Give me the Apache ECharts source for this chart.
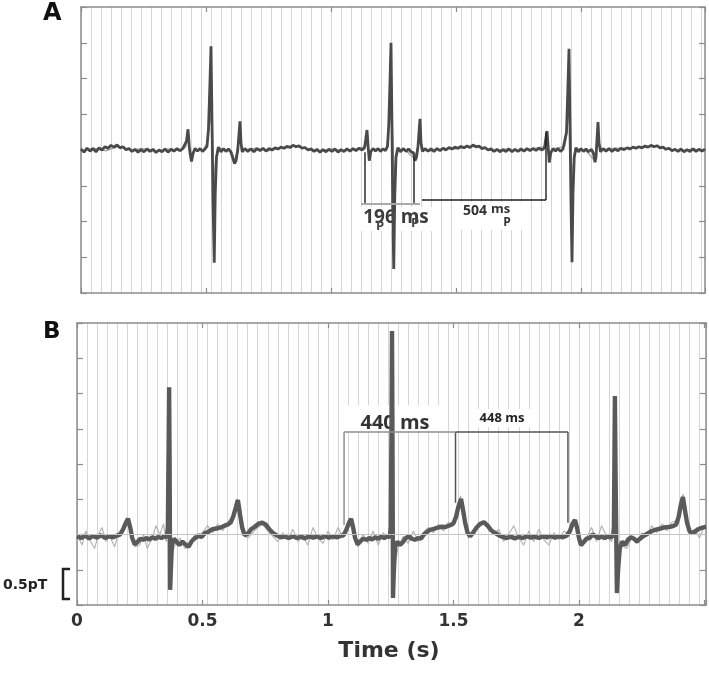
<!DOCTYPE html>
<html><head><meta charset="utf-8">
<script src="https://cdn.jsdelivr.net/npm/echarts@6.0.0/dist/echarts.min.js"></script>
<style>html,body{margin:0;padding:0;background:#fff}#c{width:709px;height:673px}</style>
</head><body><div id="c"></div><script>
// ---------- data (time in s, field in arbitrary units) ----------
const xTickLabels = ['0', '0.5', '1', '1.5', '2'];

const aMain = [[0,0.03],[0.012,-0.06],[0.024,0.05],[0.036,-0.03],[0.048,0.04],[0.06,-0.05],[0.072,0.06],[0.084,0.0],[0.096,0.09],[0.108,0.05],[0.12,0.13],[0.132,0.08],[0.144,0.14],[0.156,0.06],[0.168,0.09],[0.18,0.01],[0.192,0.04],[0.204,-0.04],[0.216,0.02],[0.228,-0.06],[0.24,0.01],[0.252,-0.05],[0.264,0.03],[0.276,-0.04],[0.288,0.02],[0.30,-0.07],[0.312,0.0],[0.324,-0.05],[0.336,0.03],[0.348,-0.06],[0.36,0.02],[0.372,-0.03],[0.384,0.04],[0.396,-0.02],[0.408,0.05],[0.416,0.02],
[0.422,0.25],[0.428,0.58],[0.433,0.1],[0.437,-0.12],[0.442,-0.32],[0.448,-0.1],[0.456,0.04],[0.466,-0.03],[0.476,0.04],[0.486,-0.04],[0.496,0.03],[0.504,0.1],
[0.51,0.6],[0.515,1.7],[0.52,2.9],[0.524,0.8],[0.528,-1.4],[0.533,-3.15],[0.537,-1.2],[0.542,-0.2],[0.55,0.08],[0.56,-0.05],[0.57,0.04],[0.58,-0.04],[0.59,0.03],[0.60,-0.06],[0.608,-0.1],
[0.614,-0.38],[0.62,-0.3],[0.627,0.0],[0.632,0.45],[0.636,0.8],[0.64,0.2],[0.645,-0.05],[0.655,0.04],[0.667,-0.04],
[0.68,0.03],[0.692,-0.05],[0.704,0.04],[0.716,-0.02],[0.728,0.05],[0.74,-0.03],[0.752,0.04],[0.764,0.0],[0.776,0.06],[0.788,0.03],[0.80,0.08],[0.812,0.05],[0.824,0.1],[0.836,0.07],[0.848,0.13],[0.86,0.09],[0.872,0.12],[0.884,0.05],[0.896,0.07],[0.908,0.0],[0.92,0.03],[0.932,-0.04],[0.944,0.02],[0.956,-0.06],[0.968,0.01],[0.98,-0.05],[0.992,0.02],[1.004,-0.04],[1.016,0.03],[1.028,-0.06],[1.04,0.01],[1.052,-0.04],[1.064,0.03],[1.076,-0.03],[1.088,0.04],[1.10,-0.02],[1.112,0.05],[1.124,0.0],[1.134,0.06],
[1.139,0.3],[1.144,0.56],[1.149,0.05],[1.153,-0.3],[1.159,-0.05],[1.168,0.04],[1.178,-0.03],[1.188,0.04],[1.198,-0.04],[1.208,0.03],[1.218,-0.02],[1.226,0.1],
[1.231,0.7],[1.236,1.9],[1.24,3.0],[1.244,0.6],[1.247,-1.6],[1.251,-3.33],[1.255,-1.3],[1.26,-0.2],[1.268,0.06],[1.278,-0.05],[1.29,0.04],[1.30,-0.04],[1.31,0.03],[1.32,-0.05],[1.33,-0.08],
[1.336,-0.3],[1.342,-0.2],[1.348,0.1],[1.352,0.5],[1.356,0.87],[1.36,0.2],[1.366,-0.04],[1.376,0.04],[1.388,-0.03],
[1.40,0.03],[1.412,-0.04],[1.424,0.04],[1.436,-0.02],[1.448,0.05],[1.46,0.0],[1.472,0.07],[1.484,0.03],[1.496,0.08],[1.508,0.05],[1.52,0.1],[1.532,0.06],[1.544,0.11],[1.556,0.07],[1.568,0.14],[1.58,0.09],[1.592,0.11],[1.604,0.04],[1.616,0.07],[1.628,0.0],[1.64,0.03],[1.652,-0.04],[1.664,0.02],[1.676,-0.05],[1.688,0.01],[1.70,-0.04],[1.712,0.03],[1.724,-0.05],[1.736,0.02],[1.748,-0.04],[1.76,0.03],[1.772,-0.03],[1.784,0.04],[1.796,-0.02],[1.808,0.04],[1.82,-0.01],[1.832,0.05],[1.844,0.0],[1.854,0.06],
[1.859,0.3],[1.864,0.53],[1.869,0.05],[1.873,-0.35],[1.879,-0.08],[1.888,0.04],[1.898,-0.03],[1.908,0.04],[1.918,-0.04],[1.928,0.03],[1.936,0.08],
[1.942,0.5],[1.947,1.6],[1.952,2.83],[1.956,0.7],[1.96,-1.5],[1.964,-3.14],[1.968,-1.2],[1.973,-0.2],[1.98,0.06],[1.99,-0.05],[2.0,0.04],[2.01,-0.04],[2.02,0.03],[2.03,-0.05],[2.042,0.02],[2.05,-0.1],
[2.056,-0.34],[2.06,-0.2],[2.064,0.3],[2.068,0.78],[2.072,0.2],[2.078,-0.05],[2.088,0.04],[2.1,-0.03],
[2.112,0.04],[2.124,-0.04],[2.136,0.03],[2.148,-0.02],[2.16,0.05],[2.172,0.01],[2.184,0.06],[2.196,0.03],[2.208,0.08],[2.22,0.05],[2.232,0.09],[2.244,0.06],[2.256,0.11],[2.268,0.08],[2.28,0.13],[2.292,0.09],[2.304,0.12],[2.316,0.06],[2.328,0.08],[2.34,0.02],[2.352,0.05],[2.364,-0.02],[2.376,0.02],[2.388,-0.04],[2.40,0.03],[2.412,-0.05],[2.424,0.01],[2.436,-0.04],[2.448,0.03],[2.46,-0.04],[2.472,0.02],[2.484,-0.03],[2.496,0.02]];

const aLight = [[0,-0.04],[0.05,0.05],[0.1,-0.02],[0.15,0.1],[0.2,0.0],[0.25,0.04],[0.3,-0.04],[0.35,0.03],[0.4,-0.03],[0.42,0.1],[0.427,0.45],[0.435,-0.05],[0.443,-0.25],[0.455,0.0],[0.49,0.02],[0.505,0.2],[0.512,0.6],[0.518,1.0],[0.522,1.05],[0.526,0.4],[0.53,-0.6],[0.534,-0.85],[0.538,-0.3],[0.545,0.05],[0.6,-0.02],[0.615,-0.3],[0.628,0.1],[0.635,0.55],[0.642,0.0],[0.7,0.05],[0.75,-0.02],[0.8,0.06],[0.85,0.12],[0.9,0.04],[0.95,-0.03],[1.0,0.04],[1.05,-0.03],[1.1,0.04],[1.14,0.1],[1.145,0.4],[1.152,-0.25],[1.165,0.02],[1.22,0.03],[1.228,0.3],[1.234,0.8],[1.24,1.05],[1.244,0.9],[1.248,0.2],[1.252,-0.7],[1.256,-0.5],[1.262,0.05],[1.3,-0.02],[1.336,-0.25],[1.35,0.2],[1.356,0.6],[1.362,0.0],[1.4,-0.03],[1.45,0.05],[1.5,0.03],[1.55,0.1],[1.6,0.08],[1.65,-0.02],[1.7,0.03],[1.75,-0.03],[1.8,0.03],[1.86,0.1],[1.865,0.4],[1.872,-0.3],[1.885,0.02],[1.935,0.1],[1.942,0.4],[1.948,0.9],[1.954,1.05],[1.958,0.6],[1.962,-0.3],[1.966,-0.8],[1.97,-0.4],[1.976,0.05],[2.02,-0.02],[2.055,-0.3],[2.068,0.55],[2.076,0.0],[2.12,0.04],[2.2,0.06],[2.3,0.1],[2.35,0.02],[2.4,-0.02],[2.45,0.03],[2.496,-0.02]];

const bMain = [[0,-2.05],[0.016,-2.1],[0.032,-2.03],[0.048,-2.11],[0.064,-2.04],[0.08,-2.09],[0.096,-2.02],[0.112,-2.1],[0.128,-2.05],[0.144,-2.08],[0.16,-2.03],[0.172,-2.0],[0.184,-1.85],[0.194,-1.68],[0.203,-1.55],[0.212,-1.8],[0.22,-2.1],[0.23,-2.28],[0.24,-2.22],[0.252,-2.12],[0.264,-2.15],[0.276,-2.1],[0.288,-2.14],[0.30,-2.08],[0.312,-2.12],[0.324,-2.07],[0.336,-2.1],[0.348,-2.05],[0.358,-2.08],[0.362,-1.8],[0.365,0.5],[0.367,2.18],[0.369,0.0],[0.371,-3.57],[0.374,-3.0],[0.378,-2.3],[0.386,-2.12],[0.396,-2.2],[0.408,-2.3],[0.42,-2.2],[0.432,-2.28],[0.444,-2.35],[0.456,-2.2],[0.47,-2.1],[0.484,-2.04],[0.496,-2.07],[0.51,-1.96],[0.524,-1.92],[0.54,-1.85],[0.556,-1.83],[0.572,-1.8],[0.588,-1.75],[0.60,-1.72],[0.612,-1.66],[0.622,-1.5],[0.632,-1.25],[0.641,-1.02],[0.65,-1.45],[0.658,-1.8],[0.668,-2.02],[0.68,-1.98],[0.694,-1.85],[0.708,-1.78],[0.722,-1.7],[0.738,-1.66],[0.752,-1.72],[0.766,-1.85],[0.78,-1.95],[0.796,-2.03],[0.812,-2.08],[0.828,-2.06],[0.844,-2.1],[0.86,-2.05],[0.876,-2.1],[0.892,-2.06],[0.908,-2.11],[0.924,-2.05],[0.94,-2.09],[0.956,-2.06],[0.972,-2.1],[0.988,-2.04],[1.004,-2.09],[1.02,-2.05],[1.036,-2.08],[1.05,-2.04],[1.062,-2.02],[1.074,-1.85],[1.084,-1.66],[1.092,-1.55],[1.1,-1.8],[1.108,-2.1],[1.118,-2.28],[1.128,-2.2],[1.14,-2.12],[1.152,-2.15],[1.164,-2.1],[1.176,-2.14],[1.188,-2.08],[1.2,-2.12],[1.212,-2.06],[1.224,-2.1],[1.236,-2.05],[1.246,-2.08],[1.25,-1.8],[1.253,1.0],[1.255,3.77],[1.257,0.5],[1.259,-3.8],[1.262,-3.1],[1.267,-2.35],[1.276,-2.2],[1.287,-2.3],[1.298,-2.22],[1.31,-2.1],[1.322,-2.05],[1.334,-2.12],[1.346,-2.15],[1.358,-2.1],[1.37,-2.12],[1.382,-2.0],[1.394,-1.93],[1.406,-1.87],[1.418,-1.85],[1.43,-1.82],[1.442,-1.8],[1.454,-1.78],[1.466,-1.79],[1.478,-1.76],[1.49,-1.73],[1.5,-1.68],[1.51,-1.5],[1.52,-1.2],[1.53,-0.99],[1.538,-1.3],[1.546,-1.65],[1.556,-1.95],[1.566,-2.05],[1.578,-1.95],[1.592,-1.8],[1.606,-1.7],[1.621,-1.65],[1.636,-1.75],[1.65,-1.88],[1.664,-1.95],[1.68,-2.02],[1.696,-2.07],[1.712,-2.1],[1.728,-2.06],[1.744,-2.11],[1.76,-2.07],[1.776,-2.1],[1.792,-2.05],[1.808,-2.09],[1.824,-2.06],[1.84,-2.1],[1.856,-2.05],[1.872,-2.08],[1.888,-2.04],[1.904,-2.09],[1.92,-2.05],[1.936,-2.08],[1.952,-2.03],[1.964,-1.9],[1.974,-1.7],[1.984,-1.59],[1.992,-1.8],[2.0,-2.1],[2.008,-2.3],[2.018,-2.22],[2.03,-2.12],[2.042,-2.1],[2.054,-2.0],[2.066,-2.05],[2.078,-2.1],[2.09,-2.06],[2.102,-2.1],[2.114,-2.05],[2.126,-2.08],[2.136,-2.04],[2.139,-1.8],[2.141,0.0],[2.143,1.93],[2.146,-0.5],[2.151,-3.66],[2.155,-3.1],[2.162,-2.4],[2.172,-2.2],[2.183,-2.3],[2.195,-2.15],[2.207,-2.08],[2.219,-2.12],[2.231,-2.2],[2.243,-2.12],[2.255,-2.05],[2.267,-2.0],[2.279,-1.95],[2.291,-1.9],[2.303,-1.87],[2.315,-1.85],[2.327,-1.83],[2.339,-1.8],[2.351,-1.79],[2.363,-1.78],[2.375,-1.76],[2.387,-1.72],[2.397,-1.5],[2.406,-1.15],[2.414,-0.94],[2.422,-1.3],[2.43,-1.65],[2.44,-1.9],[2.45,-1.96],[2.462,-1.92],[2.474,-1.85],[2.486,-1.82],[2.5,-1.79],[2.506,-1.78]];

const bLight = [[0,-2.0],[0.02,-2.3],[0.035,-1.9],[0.05,-2.15],[0.07,-2.4],[0.085,-2.0],[0.1,-1.8],[0.115,-2.2],[0.13,-2.05],[0.15,-2.35],[0.165,-1.95],[0.18,-1.9],[0.2,-1.6],[0.215,-1.9],[0.23,-2.35],[0.25,-2.3],[0.265,-2.0],[0.28,-2.4],[0.3,-2.1],[0.315,-1.75],[0.33,-2.0],[0.345,-1.7],[0.355,-2.2],[0.362,-1.9],[0.366,1.5],[0.369,-0.5],[0.372,-3.2],[0.377,-2.6],[0.39,-2.3],[0.41,-2.1],[0.43,-2.4],[0.45,-2.25],[0.47,-2.0],[0.5,-1.95],[0.52,-1.75],[0.54,-1.95],[0.56,-1.7],[0.58,-1.9],[0.6,-1.65],[0.62,-1.5],[0.64,-1.2],[0.66,-1.95],[0.68,-2.1],[0.7,-1.95],[0.72,-1.8],[0.74,-1.72],[0.76,-1.9],[0.78,-2.05],[0.8,-2.2],[0.82,-1.95],[0.84,-2.15],[0.86,-1.85],[0.88,-2.2],[0.9,-2.05],[0.92,-2.3],[0.94,-1.8],[0.96,-2.1],[0.98,-2.25],[1.0,-1.9],[1.02,-2.15],[1.04,-1.8],[1.06,-2.1],[1.08,-1.7],[1.092,-1.62],[1.105,-2.0],[1.118,-2.35],[1.14,-2.0],[1.16,-2.25],[1.18,-1.9],[1.2,-2.3],[1.22,-1.95],[1.24,-2.1],[1.25,-2.0],[1.254,2.5],[1.257,-1.0],[1.26,-3.5],[1.265,-2.9],[1.28,-2.35],[1.3,-2.05],[1.32,-2.25],[1.34,-1.9],[1.36,-2.2],[1.38,-1.95],[1.4,-1.8],[1.42,-1.95],[1.44,-1.7],[1.46,-1.9],[1.48,-1.65],[1.5,-1.75],[1.515,-1.3],[1.528,-0.9],[1.54,-1.5],[1.56,-2.1],[1.58,-1.9],[1.6,-1.75],[1.62,-1.7],[1.64,-1.85],[1.66,-2.0],[1.68,-1.85],[1.7,-2.2],[1.72,-2.0],[1.74,-1.75],[1.76,-2.1],[1.78,-2.3],[1.8,-1.9],[1.82,-2.2],[1.84,-1.85],[1.86,-2.15],[1.88,-2.3],[1.9,-1.95],[1.92,-2.15],[1.94,-1.9],[1.96,-2.0],[1.984,-1.62],[2.0,-2.05],[2.01,-2.35],[2.03,-2.1],[2.05,-1.8],[2.07,-2.2],[2.09,-1.75],[2.11,-2.05],[2.13,-2.2],[2.14,-1.9],[2.143,1.2],[2.147,-1.5],[2.152,-3.4],[2.157,-3.0],[2.17,-2.3],[2.19,-2.4],[2.21,-2.1],[2.23,-2.25],[2.25,-1.95],[2.27,-2.05],[2.29,-1.75],[2.31,-1.95],[2.33,-1.7],[2.35,-1.9],[2.37,-1.65],[2.39,-1.6],[2.405,-1.1],[2.415,-0.85],[2.425,-1.4],[2.44,-2.0],[2.46,-1.85],[2.48,-2.1],[2.5,-1.75]];

const bReferenceLevel = -2.0;

// interval brackets (time, value)
const intervalA_dark = [[[1.136,-0.06],[1.136,-1.48]], [[1.332,-0.2],[1.332,-1.48]], [[1.86,0.5],[1.86,-1.4]], [[1.364,-1.4],[1.86,-1.4]]];
const intervalA_light = [[[1.12,-1.51],[1.356,-1.51]]];
const intervalB_dark = [[[1.508,0.91],[1.956,0.91]], [[1.508,0.91],[1.508,-1.1]], [[1.956,0.91],[1.956,-1.67]]];
const intervalB_light = [[[1.064,0.91],[1.508,0.91]], [[1.064,0.91],[1.064,-1.73]]];

// ---------- chart ----------
const chart = echarts.init(document.getElementById('c'), null, {renderer: 'canvas'});
const AX = '#8c8c8c';
function frameAxis(grid, pos, max, labels) {
  return {
    type: 'value', gridIndex: grid, position: pos, min: 0, max: max, interval: 0.5,
    axisLine: {show: true, onZero: false, lineStyle: {color: AX, width: 1.5}},
    axisTick: {show: true, inside: true, length: 5, lineStyle: {color: AX, width: 1.2}},
    axisLabel: labels ? {
      show: true, margin: 8, color: '#333', fontFamily: 'DejaVu Sans', fontWeight: 'bold', fontSize: 17,
      formatter: function (v) { const i = Math.round(v * 2); return (Math.abs(v * 2 - i) < 1e-6 && i < xTickLabels.length) ? xTickLabels[i] : ''; }
    } : {show: false},
    splitLine: {show: false}
  };
}
function minorAxis(grid, max) {
  return {
    type: 'value', gridIndex: grid, position: 'bottom', min: 0, max: max, interval: 0.04,
    axisLine: {show: false, onZero: false}, axisTick: {show: false}, axisLabel: {show: false},
    splitLine: {show: true, lineStyle: {color: '#d6d6d6', width: 1}}
  };
}
function yFrame(grid, pos) {
  return {
    type: 'value', gridIndex: grid, position: pos, min: -4, max: 4, interval: 1,
    axisLine: {show: true, onZero: false, lineStyle: {color: AX, width: 1.5}},
    axisTick: {show: true, inside: true, length: 6, lineStyle: {color: AX, width: 1.2}},
    axisLabel: {show: false}, splitLine: {show: false}
  };
}
function trace(data, xi, yi, color, width, z) {
  return {type: 'line', xAxisIndex: xi, yAxisIndex: yi, data: data, symbol: 'none', showSymbol: false,
    lineStyle: {color: color, width: width}, silent: true, z: z, animation: false};
}
function segs(list, xi, yi, color, width) {
  return list.map(s => trace(s, xi, yi, color, width, 4));
}

const series = [
  trace(aLight, 0, 0, '#a8a8a8', 1.4, 2),
  trace(aMain, 0, 0, '#4a4a4a', 2.8, 3),
  trace(bLight, 3, 2, '#b0b0b0', 1.1, 2),
  trace(bMain, 3, 2, '#5a5a5a', 4.4, 3),
  ...segs(intervalA_dark, 0, 0, '#1e1e1e', 1.4),
  ...segs(intervalA_light, 0, 0, '#aaaaaa', 2),
  ...segs(intervalB_dark, 3, 2, '#555555', 1.5),
  ...segs(intervalB_light, 3, 2, '#8f8f8f', 1.5)
];
series[2].markLine = {silent: true, symbol: 'none', label: {show: false},
  lineStyle: {color: '#c4c4c4', width: 1, type: 'solid'}, data: [{yAxis: bReferenceLevel}]};

function txt(text, x, y, font, fill, align, z) {
  return {type: 'text', x: x, y: y, z: z || 10, silent: true,
    style: {text: text, font: font, fill: fill, align: align || 'left', verticalAlign: 'middle'}};
}
function white(x, y, w, h) {
  return {type: 'rect', shape: {x: x, y: y, width: w, height: h}, style: {fill: '#fff'}, z: 1, silent: true};
}

const option = {
  backgroundColor: '#fff',
  animation: false,
  grid: [
    {left: 81, top: 7, width: 624, height: 286, show: false},
    {left: 77, top: 323, width: 629, height: 282, show: false}
  ],
  xAxis: [
    frameAxis(0, 'bottom', 2.496, false),
    frameAxis(0, 'top', 2.496, false),
    minorAxis(0, 2.496),
    frameAxis(1, 'bottom', 2.506, true),
    frameAxis(1, 'top', 2.506, false),
    minorAxis(1, 2.506)
  ],
  yAxis: [yFrame(0, 'left'), yFrame(0, 'right'), yFrame(1, 'left'), yFrame(1, 'right')],
  series: series,
  graphic: [
    white(358, 207, 77, 24),
    white(457, 202, 66, 28),
    white(345, 405, 95, 26),
    white(474, 409, 57, 18),
    txt('A', 43, 14, 'bold 24px "DejaVu Sans"', '#111'),
    txt('B', 43, 332, 'bold 23px "DejaVu Sans"', '#111'),
    txt('196 ms', 396, 218, 'bold 19px "Open Sans"', '#3c3c3c', 'center', 2),
    txt('P', 380, 226, 'bold 13px "Open Sans"', '#444', 'center', 2),
    txt('P', 415, 223, 'bold 13px "Open Sans"', '#444', 'center', 2),
    txt('504', 463, 211, 'bold 14px "Open Sans"', '#333', 'left', 2),
    txt('ms', 491, 209, 'bold 13px "Open Sans"', '#333', 'left', 2),
    txt('P', 507, 223, 'bold 12px "Open Sans"', '#333', 'center', 2),
    txt('440 ms', 395, 423, 'bold 20px "Open Sans"', '#333', 'center', 2),
    txt('448 ms', 502, 418, 'bold 13px "Open Sans"', '#222', 'center', 2),
    txt('0.5pT', 3, 585, 'bold 14px "DejaVu Sans"', '#222'),
    {type: 'polyline', shape: {points: [[70, 569], [63, 569], [63, 599], [70, 599]]},
      style: {stroke: '#222', lineWidth: 2.5, fill: null}, z: 10, silent: true},
    txt('Time (s)', 389, 651, 'bold 22px "DejaVu Sans"', '#333', 'center')
  ]
};
chart.setOption(option);
</script></body></html>
